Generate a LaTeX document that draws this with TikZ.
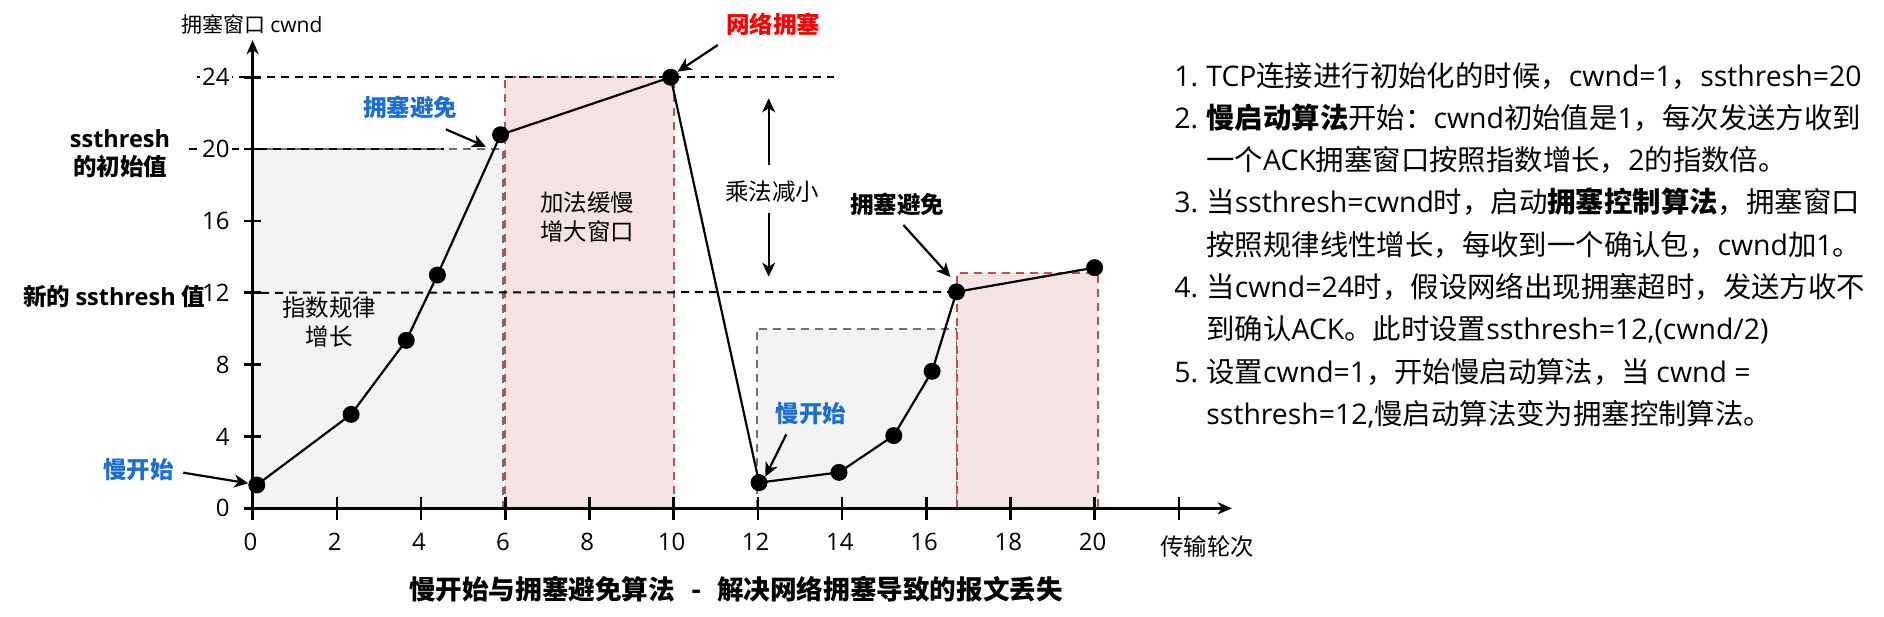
\documentclass[tikz,border=0pt]{standalone}
\usepackage{fontspec}
\setmainfont{Noto Sans CJK SC}
\newfontfamily\lat{Open Sans}
\usetikzlibrary{arrows.meta}
\definecolor{blueT}{HTML}{1A6ED6}
\definecolor{redT}{HTML}{FF0000}
\definecolor{pinkF}{HTML}{F5E3E3}
\definecolor{pinkD}{HTML}{C0504D}
\definecolor{grayF}{HTML}{F3F3F3}
\definecolor{grayD}{HTML}{707070}
\begin{document}
\begin{tikzpicture}[x=0.5pt,y=-0.5pt,
  dsh/.style={dash pattern=on 4pt off 3pt, line width=1pt},
  arr/.style={-{Stealth[length=7pt,width=6.5pt,inset=2pt]}, line width=1.1pt},
  axisl/.style={line width=1.3pt},
  dot/.style={circle, fill=black, inner sep=0pt, minimum size=8.5pt},
  lbl/.style={font=\fontsize{11.75}{14}\selectfont, inner sep=0pt, align=center},
  blbl/.style={lbl, font=\fontsize{11.75}{14}\selectfont\bfseries},
  ticklbl/.style={font=\lat\fontsize{12}{14}\selectfont, inner sep=1pt},
  item/.style={anchor=base west, inner sep=0pt, font=\fontsize{14.2}{17}\selectfont},
]
\useasboundingbox (0,0) rectangle (1884,616);
\fill[white] (0,0) rectangle (1884,616);

\begin{scope}[shift={(252.6,508.3)}, x=21.05pt, y=8.98pt]
  % regions
  \fill[grayF] (0,0) rectangle (5.94,20);
  \draw[grayD, dsh] (0,20) -- (5.94,20) -- (5.94,0);
  \fill[pinkF] (6,0) rectangle (10,24);
  \draw[pinkD, dsh] (6,0) -- (6,24) -- (10,24) -- (10,0);
  \fill[grayF] (11.98,0) rectangle (16.73,10);
  \draw[grayD, dsh] (11.98,0) -- (11.98,10) -- (16.73,10) -- (16.73,0);
  \fill[pinkF] (16.73,0) rectangle (20.07,13.1);
  \draw[pinkD, dsh] (16.73,0) -- (16.73,13.1) -- (20.07,13.1) -- (20.07,0);
  % guide lines
  \draw[dsh] (-1.32,24) -- (13.82,24);
  \draw[dsh] (-1.5,20) -- (4.55,20);
  % axes
  \draw[axisl, -{Stealth[length=7pt,width=6pt,inset=2pt]}] (0,-0.65) -- (0,26.07);
  \draw[axisl, -{Stealth[length=7pt,width=6pt,inset=2pt]}] (-0.2,0) -- (23.26,0);
  \foreach \v in {4,8,...,24} \draw[axisl] (-0.2,\v) -- (0.2,\v);
  \foreach \u in {0,2,...,22} \draw[axisl] (\u,0.65) -- (\u,-0.65);
  \foreach \v in {0,4,...,24} \node[ticklbl, anchor=east, fill=white] (yl\v) at (-0.49,\v) {\v};
  \foreach \u in {0,2,...,20} \node[ticklbl] (xl\u) at (\u-0.05,-1.87) {\u};
  % data points
  \node[dot] (p0) at (0.1,1.3) {};
  \node[dot] (p1) at (2.34,5.23) {};
  \node[dot] (p2) at (3.65,9.35) {};
  \node[dot] (p3) at (4.39,12.99) {};
  \node[dot] (p4) at (5.89,20.8) {};
  \node[dot] (p5) at (9.93,24.0) {};
  \node[dot] (p6) at (12.03,1.43) {};
  \node[dot] (p7) at (13.93,2.0) {};
  \node[dot] (p8) at (15.23,4.05) {};
  \node[dot] (p9) at (16.14,7.63) {};
  \node[dot] (p10) at (16.72,12.05) {};
  \node[dot] (p11) at (20.0,13.4) {};
  \draw[dsh] (0.2,12) -- (p10.center);
  \draw[line width=1.1pt] (p0.center) -- (p1.center) -- (p2.center) -- (p3.center) -- (p4.center) -- (p5.center) -- (p6.center) -- (p7.center) -- (p8.center) -- (p9.center) -- (p10.center) -- (p11.center);
\end{scope}

% labels
\node[lbl, font=\fontsize{10.5}{12}\selectfont] (ylab) at (252,24) {拥塞窗口 {\lat cwnd}};
\node[blbl] (ss1) at (120,139) {{\lat\bfseries ssthresh}};
\node[blbl] (ss2) at (120,166) {的初始值};
\node[blbl, anchor=east] (newss) at (205,296) {新的 {\lat\bfseries ssthresh} 值};
\node[blbl, text=blueT] (ca1) at (410,107) {拥塞避免};
\node[blbl, text=blueT] (ssa) at (138.5,470) {慢开始};
\node[blbl, text=blueT] (ssb) at (811,414) {慢开始};
\node[blbl] (ca2) at (897,204) {拥塞避免};
\node[blbl, text=redT] (cong) at (773,24) {网络拥塞};
\node[lbl] (exp1) at (329,308) {指数规律};
\node[lbl] (exp2) at (329,337) {增长};
\node[lbl] (add1) at (587,203) {加法缓慢};
\node[lbl] (add2) at (587,232) {增大窗口};
\node[lbl] (mul) at (772,192) {乘法减小};
\node[lbl] (xlab) at (1207,547) {传输轮次};
\node[lbl, font=\fontsize{13.3}{16}\selectfont\bfseries] (title) at (736,589) {慢开始与拥塞避免算法\hspace{0.6em}-\hspace{0.6em}解决网络拥塞导致的报文丢失};

% annotation arrows
\coordinate (a1s) at (445.8,129.3); \coordinate (a1e) at (486,146.7);
\coordinate (a2s) at (183.3,472.7); \coordinate (a2e) at (248.3,483.3);
\coordinate (a3s) at (717.8,45);    \coordinate (a3e) at (677.6,71.7);
\coordinate (a4s) at (768.7,165);   \coordinate (a4e) at (768.7,98.3);
\coordinate (a5s) at (768.7,213.3); \coordinate (a5e) at (768.7,276.7);
\coordinate (a6s) at (903.4,225);   \coordinate (a6e) at (950.4,277);
\coordinate (a7s) at (786.3,434.3); \coordinate (a7e) at (765.3,476.7);
\draw[arr] (a1s) -- (a1e);
\draw[arr] (a2s) -- (a2e);
\draw[arr] (a3s) -- (a3e);
\draw[arr] (a4s) -- (a4e);
\draw[arr] (a5s) -- (a5e);
\draw[arr] (a6s) -- (a6e);
\draw[arr] (a7s) -- (a7e);

% list
\node[item] (n1) at (1174,86) {\lat 1.};
\node[item] (t1) at (1206,86) {{\lat TCP}连接进行初始化的时候，{\lat cwnd=1}，{\lat ssthresh=20}};
\node[item] (n2) at (1174,128.3) {\lat 2.};
\node[item] (t2) at (1206,128.3) {\textbf{慢启动算法}开始：{\lat cwnd}初始值是{\lat 1}，每次发送方收到};
\node[item] (t3) at (1206,170.6) {一个{\lat ACK}拥塞窗口按照指数增长，{\lat 2}的指数倍。};
\node[item] (n4) at (1174,212.9) {\lat 3.};
\node[item] (t4) at (1206,212.9) {当{\lat ssthresh=cwnd}时，启动\textbf{拥塞控制算法}，拥塞窗口};
\node[item] (t5) at (1206,255.2) {按照规律线性增长，每收到一个确认包，{\lat cwnd}加{\lat 1}。};
\node[item] (n6) at (1174,297.5) {\lat 4.};
\node[item] (t6) at (1206,297.5) {当{\lat cwnd=24}时，假设网络出现拥塞超时，发送方收不};
\node[item] (t7) at (1206,339.8) {到确认{\lat ACK}。此时设置{\lat ssthresh=12,(cwnd/2)}};
\node[item] (n8) at (1174,382.1) {\lat 5.};
\node[item] (t8) at (1206,382.1) {设置{\lat cwnd=1}，开始慢启动算法，当 {\lat cwnd =}};
\node[item] (t9) at (1206,424.4) {{\lat ssthresh=12,}慢启动算法变为拥塞控制算法。};
\end{tikzpicture}
\end{document}
